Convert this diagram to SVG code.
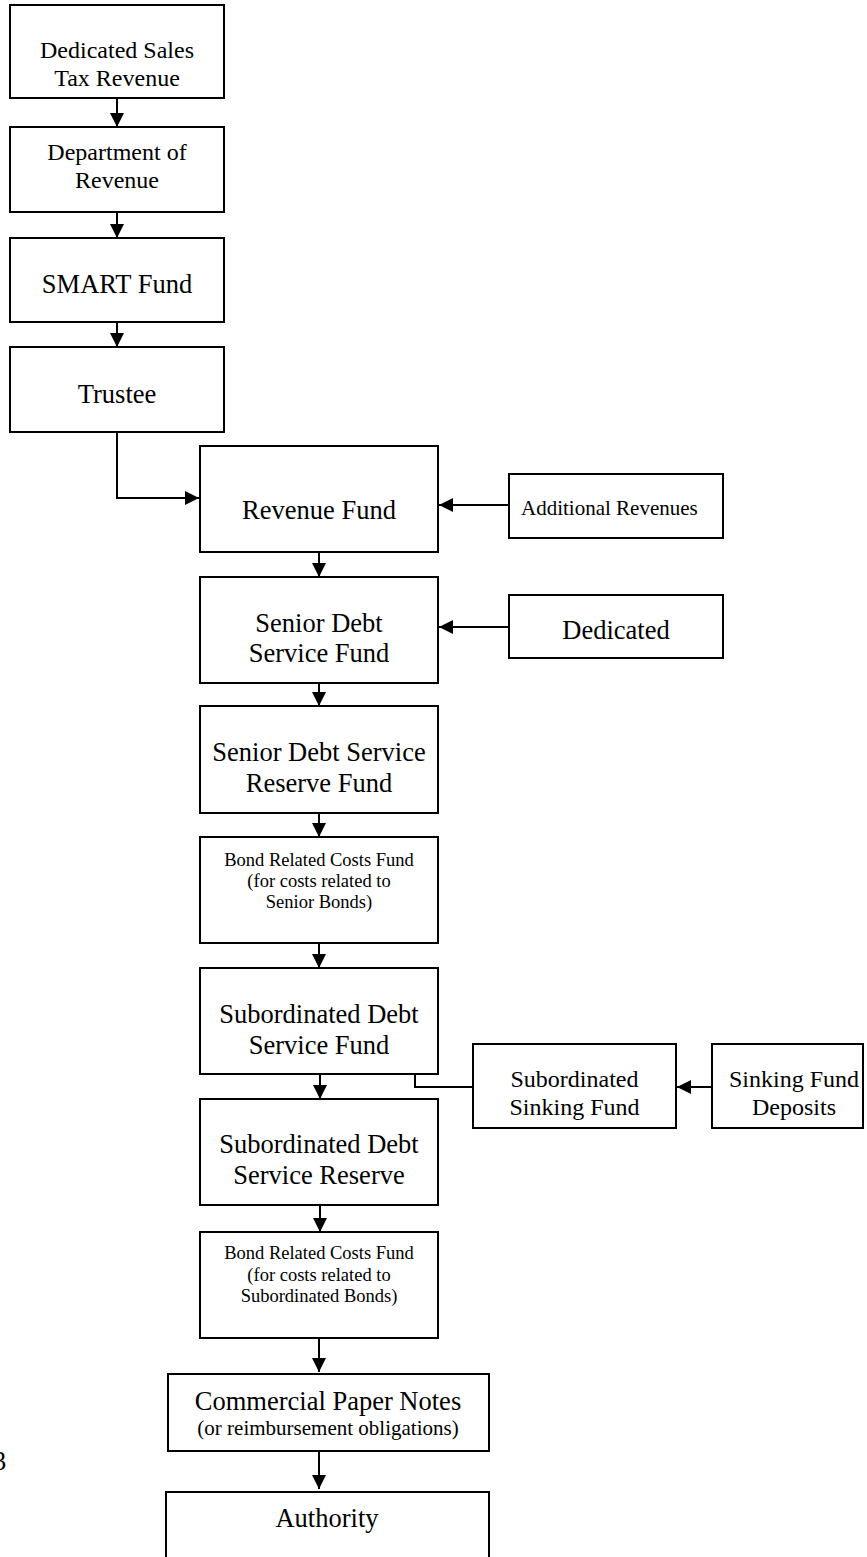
<svg xmlns="http://www.w3.org/2000/svg" width="867" height="1557" viewBox="0 0 867 1557">
<style>
.box{fill:#fff;stroke:#000;stroke-width:2}
text{font-family:"Liberation Serif","Times New Roman",serif;fill:#000;text-anchor:middle}
.f24{font-size:24px}
.f26{font-size:26.5px}
.f21{font-size:21px}
.f18{font-size:18.5px}
.c{fill:none;stroke:#000;stroke-width:2}
</style>
<defs>
<marker id="ah" markerUnits="userSpaceOnUse" markerWidth="14" markerHeight="14" refX="14" refY="7" orient="auto">
<path d="M0,0 L14,7 L0,14 z" fill="#000"/>
</marker>
</defs>
<rect width="867" height="1557" fill="#fff"/>
<g id="connectors">
<line class="c" x1="117" y1="98" x2="117" y2="127" marker-end="url(#ah)"/>
<line class="c" x1="117" y1="212" x2="117" y2="238" marker-end="url(#ah)"/>
<line class="c" x1="117" y1="322" x2="117" y2="347" marker-end="url(#ah)"/>
<polyline class="c" points="117,432 117,498 199,498" marker-end="url(#ah)"/>
<line class="c" x1="509" y1="505" x2="439" y2="505" marker-end="url(#ah)"/>
<line class="c" x1="319" y1="552" x2="319" y2="577" marker-end="url(#ah)"/>
<line class="c" x1="509" y1="627" x2="439" y2="627" marker-end="url(#ah)"/>
<line class="c" x1="319" y1="683" x2="319" y2="706" marker-end="url(#ah)"/>
<line class="c" x1="319" y1="813" x2="319" y2="837" marker-end="url(#ah)"/>
<line class="c" x1="319" y1="943" x2="319" y2="968" marker-end="url(#ah)"/>
<line class="c" x1="320" y1="1074" x2="320" y2="1099" marker-end="url(#ah)"/>
<polyline class="c" points="415,1074 415,1087 473,1087"/>
<line class="c" x1="712" y1="1087" x2="677" y2="1087" marker-end="url(#ah)"/>
<line class="c" x1="320" y1="1205" x2="320" y2="1232" marker-end="url(#ah)"/>
<line class="c" x1="319" y1="1338" x2="319" y2="1372" marker-end="url(#ah)"/>
<line class="c" x1="319" y1="1451" x2="319" y2="1489" marker-end="url(#ah)"/>
</g>
<g id="n-sales-tax">
<rect class="box" x="10" y="5" width="214" height="93"/>
<text class="f24" x="117" y="58">Dedicated Sales</text>
<text class="f24" x="117" y="86">Tax Revenue</text>
</g>
<g id="n-dept-revenue">
<rect class="box" x="10" y="127" width="214" height="85"/>
<text class="f24" x="117" y="160">Department of</text>
<text class="f24" x="117" y="188">Revenue</text>
</g>
<g id="n-smart">
<rect class="box" x="10" y="238" width="214" height="84"/>
<text class="f26" x="117" y="293">SMART Fund</text>
</g>
<g id="n-trustee">
<rect class="box" x="10" y="347" width="214" height="85"/>
<text class="f26" x="117" y="403">Trustee</text>
</g>
<g id="n-revenue-fund">
<rect class="box" x="200" y="446" width="238" height="106"/>
<text class="f26" x="319" y="519">Revenue Fund</text>
</g>
<g id="n-additional">
<rect class="box" x="509" y="474" width="214" height="64"/>
<text class="f21" x="521" y="515" style="text-anchor:start">Additional Revenues</text>
</g>
<g id="n-senior-ds">
<rect class="box" x="200" y="577" width="238" height="106"/>
<text class="f26" x="319" y="632">Senior Debt</text>
<text class="f26" x="319" y="662">Service Fund</text>
</g>
<g id="n-dedicated">
<rect class="box" x="509" y="595" width="214" height="63"/>
<text class="f26" x="616" y="639">Dedicated</text>
</g>
<g id="n-senior-reserve">
<rect class="box" x="200" y="706" width="238" height="107"/>
<text class="f26" x="319" y="761">Senior Debt Service</text>
<text class="f26" x="319" y="792">Reserve Fund</text>
</g>
<g id="n-bond-senior">
<rect class="box" x="200" y="837" width="238" height="106"/>
<text class="f18" x="319" y="866">Bond Related Costs Fund</text>
<text class="f18" x="319" y="887">(for costs related to</text>
<text class="f18" x="319" y="908">Senior Bonds)</text>
</g>
<g id="n-sub-ds">
<rect class="box" x="200" y="968" width="238" height="106"/>
<text class="f26" x="319" y="1023">Subordinated Debt</text>
<text class="f26" x="319" y="1054">Service Fund</text>
</g>
<g id="n-sub-sinking">
<rect class="box" x="473" y="1044" width="203" height="84"/>
<text class="f24" x="574.5" y="1087">Subordinated</text>
<text class="f24" x="574.5" y="1115">Sinking Fund</text>
</g>
<g id="n-sinking-deposits">
<rect class="box" x="712" y="1044" width="151" height="84"/>
<text class="f24" x="794" y="1087">Sinking Fund</text>
<text class="f24" x="794" y="1115">Deposits</text>
</g>
<g id="n-sub-reserve">
<rect class="box" x="200" y="1099" width="238" height="106"/>
<text class="f26" x="319" y="1153">Subordinated Debt</text>
<text class="f26" x="319" y="1184">Service Reserve</text>
</g>
<g id="n-bond-sub">
<rect class="box" x="200" y="1232" width="238" height="106"/>
<text class="f18" x="319" y="1259">Bond Related Costs Fund</text>
<text class="f18" x="319" y="1281">(for costs related to</text>
<text class="f18" x="319" y="1302">Subordinated Bonds)</text>
</g>
<g id="n-cp-notes">
<rect class="box" x="168" y="1374" width="321" height="77"/>
<text class="f26" x="328" y="1410">Commercial Paper Notes</text>
<text class="f21" x="328" y="1435">(or reimbursement obligations)</text>
</g>
<g id="n-authority">
<rect class="box" x="166" y="1492" width="323" height="90"/>
<text class="f26" x="327" y="1527">Authority</text>
</g>
<text class="f26" x="-7" y="1470" style="text-anchor:start">3</text>
</svg>
